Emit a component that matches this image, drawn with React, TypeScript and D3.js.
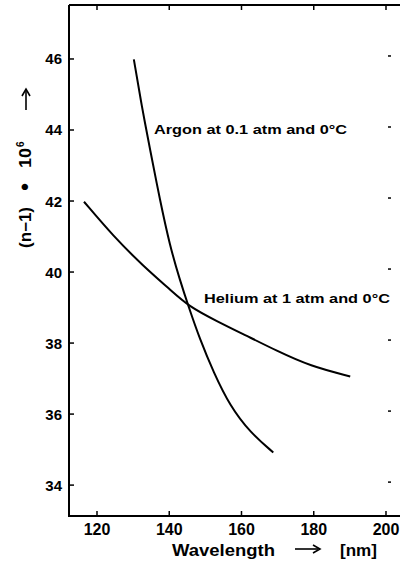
import React from "react";
import * as d3 from "d3";

const heliumLambda = [116.4, 124.5, 132.8, 140.2, 145.3, 153.1, 161.5, 169.8, 179.0, 190.1];
const heliumValue = [41.98, 41.01, 40.17, 39.51, 39.04, 38.62, 38.2, 37.78, 37.35, 37.06];
const argonLambda = [130.2, 132.4, 134.7, 137.4, 140.2, 142.9, 145.3, 148.5, 152.3, 156.8, 162.4, 168.8];
const argonValue = [45.99, 44.66, 43.45, 42.04, 40.73, 39.79, 39.04, 38.1, 37.17, 36.23, 35.48, 34.92];
const xTicks = [120, 140, 160, 180, 200];
const yTicks = [34, 36, 38, 40, 42, 44, 46];

const W = 400;
const H = 562;
const left = 69;
const right = 399;
const top = 5;
const bottom = 516;

export default function App() {
  const x = d3.scaleLinear().domain([112.25, 203.6]).range([left, right]);
  const y = d3.scaleLinear().domain([33.13, 47.52]).range([bottom, top]);
  const line = d3
    .line<[number, number]>()
    .x((d) => x(d[0]))
    .y((d) => y(d[1]))
    .curve(d3.curveBasis);
  const helium = heliumLambda.map((l, i) => [l, heliumValue[i]] as [number, number]);
  const argon = argonLambda.map((l, i) => [l, argonValue[i]] as [number, number]);
  const font = "'Liberation Sans', Arial, sans-serif";

  return (
    <svg
      width={W}
      height={H}
      viewBox={`0 0 ${W} ${H}`}
      style={{ position: "absolute", left: 0, top: 0, background: "#fff" }}
      fontFamily={font}
      fontWeight="bold"
    >
      <rect x={0} y={0} width={W} height={H} fill="#fff" />
      {/* frame */}
      <line x1={left} x2={W} y1={top} y2={top} stroke="#000" strokeWidth={2} />
      <line x1={left} x2={W} y1={bottom} y2={bottom} stroke="#000" strokeWidth={2} />
      <line x1={left} x2={left} y1={top} y2={bottom + 1} stroke="#000" strokeWidth={2} />
      {/* x ticks */}
      {xTicks.map((t) => (
        <g key={"x" + t}>
          <line x1={x(t)} x2={x(t)} y1={bottom} y2={bottom - 5} stroke="#000" strokeWidth={1.5} />
          <line x1={x(t)} x2={x(t)} y1={top} y2={top + 5} stroke="#000" strokeWidth={1.5} />
          <text x={x(t)} y={535} textAnchor="middle" fontSize={16} fill="#000">
            {t}
          </text>
        </g>
      ))}
      {/* y ticks */}
      {yTicks.map((t) => (
        <g key={"y" + t}>
          <line x1={left} x2={left + 5} y1={y(t)} y2={y(t)} stroke="#000" strokeWidth={1.5} />
          <line x1={388} x2={391} y1={y(t) - 3} y2={y(t) - 3} stroke="#000" strokeWidth={1.5} />
          <text x={62} y={y(t) + 5.5} textAnchor="end" fontSize={15} fill="#000">
            {t}
          </text>
        </g>
      ))}
      {/* curves */}
      <path d={line(helium) || ""} fill="none" stroke="#000" strokeWidth={2} />
      <path d={line(argon) || ""} fill="none" stroke="#000" strokeWidth={2} />
      {/* curve labels */}
      <text x={154} y={134} fontSize={13.5} fill="#000" textLength={193} lengthAdjust="spacingAndGlyphs">
        Argon at 0.1 atm and 0°C
      </text>
      <text x={204} y={303} fontSize={13.5} fill="#000" textLength={186} lengthAdjust="spacingAndGlyphs">
        Helium at 1 atm and 0°C
      </text>
      {/* x label */}
      <text x={172} y={556} fontSize={16} fill="#000" textLength={103} lengthAdjust="spacingAndGlyphs">
        Wavelength
      </text>
      <line x1={295} x2={318} y1={549} y2={549} stroke="#000" strokeWidth={1.6} />
      <path d="M313,545 L320,549 L313,553" fill="none" stroke="#000" strokeWidth={1.6} />
      <text x={340} y={556} fontSize={16} fill="#000" textLength={37} lengthAdjust="spacingAndGlyphs">
        [nm]
      </text>
      {/* y label */}
      <g fontSize={16} fill="#000">
        <text transform="translate(31, 248) rotate(-90)" textLength={41} lengthAdjust="spacingAndGlyphs">
          (n−1)
        </text>
        <text transform="translate(32, 187) rotate(-90)" textAnchor="middle" fontSize={22}>
          •
        </text>
        <text transform="translate(31, 168) rotate(-90)" textLength={20} lengthAdjust="spacingAndGlyphs">
          10
        </text>
        <text transform="translate(24, 147) rotate(-90)" fontSize={10}>
          6
        </text>
      </g>
      <line x1={26} x2={26} y1={110} y2={91} stroke="#000" strokeWidth={1.6} />
      <path d="M22,96 L26,89 L30,96" fill="none" stroke="#000" strokeWidth={1.6} />
    </svg>
  );
}
